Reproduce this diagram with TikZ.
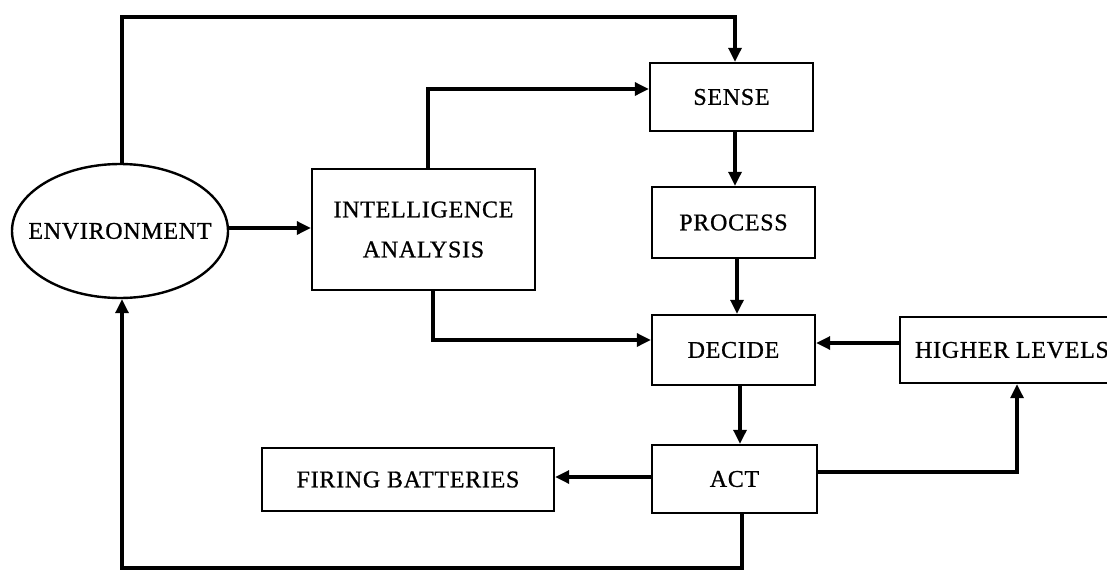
\documentclass[tikz,border=0pt]{standalone}
\usepackage{fontspec}
\setmainfont{Liberation Serif}[LetterSpace=3,FakeBold=0.8]
\usetikzlibrary{arrows.meta,shapes.geometric}
\tikzset{
  blockfont/.style={font=\fontsize{24}{40}\selectfont},
  block/.style={draw, line width=2.4pt, inner sep=0pt, align=center, blockfont},
  envshape/.style={draw, line width=2.4pt, ellipse, inner sep=0pt},
  link/.style={line width=3.2pt, line join=miter},
  arr/.style={link, -{Triangle[length=14pt,width=13pt]}},
}
\begin{document}
\begin{tikzpicture}[x=1pt,y=-1pt]
\useasboundingbox (0,0) rectangle (1107,570);
\clip (0,0) rectangle (1107,570);

% blocks
\node[envshape, minimum width=216pt, minimum height=134pt,
      label={[blockfont]center:ENVIRONMENT}] (env) at (120,231) {};
\node[block, minimum width=223pt, minimum height=121pt] (intel) at (423.5,229.5) {INTELLIGENCE\\ANALYSIS};
\node[block, minimum width=163pt, minimum height=68pt] (sense) at (731.5,97) {SENSE};
\node[block, minimum width=163pt, minimum height=71pt] (proc) at (733.5,222.5) {PROCESS};
\node[block, minimum width=163pt, minimum height=70pt] (decide) at (733.5,350) {DECIDE};
\node[block, minimum width=165pt, minimum height=68pt] (act) at (734.5,479) {ACT};
\node[block, minimum width=292pt, minimum height=63pt] (fire) at (408,479.5) {FIRING BATTERIES};
\node[block, minimum width=224pt, minimum height=66pt] (higher) at (1012,350) {HIGHER LEVELS};

% routing points
\coordinate (topline) at (735,17);
\coordinate (intup) at (428,89);
\coordinate (intdown) at (433,340);
\coordinate (hlturn) at (1017,472);
\coordinate (bottomline) at (742,568);
\coordinate (envup) at (122,568);

% connectors
\draw[arr] (env.north -| 122,0) |- (topline) -- (topline |- sense.north);
\draw[arr] (intel.north -| intup) |- (sense.west |- intup);
\draw[arr] (env.east |- 0,228) -- (intel.west |- 0,228);
\draw[arr] (sense.south -| 735,0) -- (proc.north -| 735,0);
\draw[arr] (proc.south -| 737,0) -- (decide.north -| 737,0);
\draw[arr] (intel.south -| intdown) |- (decide.west |- intdown);
\draw[arr] (higher.west |- 0,343) -- (decide.east |- 0,343);
\draw[arr] (decide.south -| 740,0) -- (act.north -| 740,0);
\draw[arr] (act.east |- hlturn) -- (hlturn) -- (higher.south -| hlturn);
\draw[arr] (act.west |- 0,477) -- (fire.east |- 0,477);
\draw[arr] (act.south -| bottomline) -- (bottomline) -- (envup) -- (env.south -| envup);
\end{tikzpicture}
\end{document}
